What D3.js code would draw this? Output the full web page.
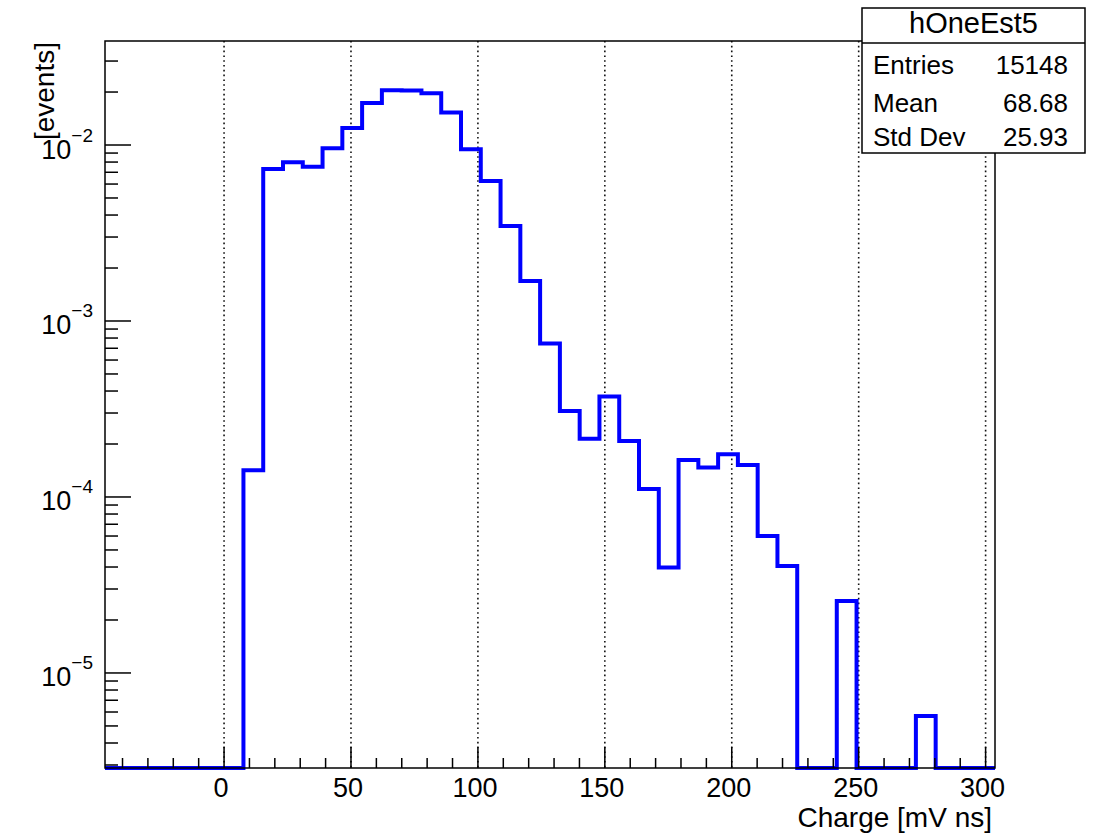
<!DOCTYPE html>
<html>
<head>
<meta charset="utf-8">
<script src="https://cdn.jsdelivr.net/npm/d3@7"></script>
<style>
  html, body { margin: 0; padding: 0; background: #fff; }
  svg { display: block; font-family: "Liberation Sans", Arial, Helvetica, sans-serif; }
</style>
</head>
<body>
<svg id="chart" width="1094" height="834"></svg>
<script>
// ---------------- data ----------------
const histName = "hOneEst5";
const xTitle = "Charge [mV ns]";
const yTitle = "[events]";
const xMin = -46.9;
const xMax = 303.7;
const nBins = 45;
// bin contents (normalized), 0 = empty bin
const binValues = [
  0, 0, 0, 0, 0, 0, 0,
  1.42e-4, 7.3e-3, 7.97e-3, 7.53e-3, 9.58e-3, 1.25e-2, 1.73e-2,
  2.05e-2, 2.04e-2, 1.97e-2, 1.53e-2, 9.45e-3, 6.24e-3, 3.46e-3,
  1.69e-3, 7.46e-4, 3.08e-4, 2.14e-4, 3.72e-4, 2.08e-4, 1.11e-4,
  3.97e-5, 1.62e-4, 1.47e-4, 1.75e-4, 1.52e-4, 6.0e-5, 4.06e-5,
  0, 0, 2.56e-5, 0, 0, 0, 5.7e-6, 0, 0, 0
];
const xMajorTicks = [0, 50, 100, 150, 200, 250, 300];
const xMinorTicks = [-40, -30, -20, -10, 10, 20, 30, 40, 60, 70, 80, 90, 110, 120, 130, 140,
  160, 170, 180, 190, 210, 220, 230, 240, 260, 270, 280, 290];
const yDecadeExponents = [-5, -4, -3, -2];
const yMin = Math.pow(10, -5.54);
const yMax = Math.pow(10, -1.409);
const statsLabels = ["Entries", "Mean", "Std Dev"];
const statsValues = ["15148", "68.68", "25.93"];

// ---------------- layout ----------------
const L = 105, R = 995, T = 41, B = 768;
const svg = d3.select("#chart");
svg.append("rect").attr("width", 1094).attr("height", 834).attr("fill", "#fff");

const x = d3.scaleLinear().domain([xMin, xMax]).range([L, R]);
const y = d3.scaleLog().domain([yMin, yMax]).range([B, T]);

// vertical dotted grid
svg.append("g").selectAll("line").data(xMajorTicks).join("line")
  .attr("x1", d => x(d)).attr("x2", d => x(d))
  .attr("y1", T).attr("y2", B)
  .attr("stroke", "#111").attr("stroke-width", 1.6)
  .attr("stroke-dasharray", "1.6,3.2");

// histogram step path
const bw = (xMax - xMin) / nBins;
const yc = v => (v > yMin ? y(v) : B);
let pts = [[x(xMin), B]];
binValues.forEach((v, i) => {
  const x0 = x(xMin + i * bw), x1 = x(xMin + (i + 1) * bw);
  pts.push([x0, yc(v)]);
  pts.push([x1, yc(v)]);
});
pts.push([x(xMax), B]);
svg.append("path")
  .attr("d", d3.line()(pts))
  .attr("fill", "none")
  .attr("stroke", "#0000ff")
  .attr("stroke-width", 4)
  .attr("stroke-linejoin", "miter");

// frame
svg.append("rect").attr("x", L).attr("y", T).attr("width", R - L).attr("height", B - T)
  .attr("fill", "none").attr("stroke", "#000").attr("stroke-width", 1.5);

// x axis ticks
const gx = svg.append("g");
gx.selectAll("line.maj").data(xMajorTicks).join("line").attr("class", "maj")
  .attr("x1", d => x(d)).attr("x2", d => x(d)).attr("y1", B).attr("y2", B - 21)
  .attr("stroke", "#000").attr("stroke-width", 1.5);
gx.selectAll("line.min").data(xMinorTicks).join("line").attr("class", "min")
  .attr("x1", d => x(d)).attr("x2", d => x(d)).attr("y1", B).attr("y2", B - 10)
  .attr("stroke", "#000").attr("stroke-width", 1.5);
gx.selectAll("text").data(xMajorTicks).join("text")
  .attr("x", d => x(d) - 3).attr("y", 797)
  .attr("text-anchor", "middle").attr("font-size", 27).attr("fill", "#000")
  .text(d => d);
svg.append("text").attr("x", 992).attr("y", 827).attr("text-anchor", "end")
  .attr("font-size", 28).attr("fill", "#000").text(xTitle);

// y axis ticks (log)
const gy = svg.append("g");
const yMinor = [];
for (let e = -6; e <= -1; e++) {
  for (let m = 2; m <= 9; m++) {
    const v = m * Math.pow(10, e);
    if (v >= yMin && v <= yMax) yMinor.push(v);
  }
}
gy.selectAll("line.min").data(yMinor).join("line").attr("class", "min")
  .attr("x1", L).attr("x2", L + 13).attr("y1", d => y(d)).attr("y2", d => y(d))
  .attr("stroke", "#000").attr("stroke-width", 1.5);
gy.selectAll("line.maj").data(yDecadeExponents).join("line").attr("class", "maj")
  .attr("x1", L).attr("x2", L + 26).attr("y1", d => y(Math.pow(10, d))).attr("y2", d => y(Math.pow(10, d)))
  .attr("stroke", "#000").attr("stroke-width", 1.5);
const lab = gy.selectAll("text").data(yDecadeExponents).join("text")
  .attr("x", 93).attr("y", d => y(Math.pow(10, d)) + 13.5)
  .attr("text-anchor", "end").attr("font-size", 27).attr("fill", "#000");
lab.append("tspan").text("10");
lab.append("tspan").attr("font-size", 19).attr("dy", -17).text(d => "\u2212" + Math.abs(d));

svg.append("text").attr("transform", "translate(54,42) rotate(-90)")
  .attr("text-anchor", "end").attr("font-size", 28).attr("fill", "#000").text(yTitle);

// stats box
const bx0 = 862, bx1 = 1085, by0 = 8, by1 = 153, bdiv = 43;
const gs = svg.append("g");
gs.append("rect").attr("x", bx0).attr("y", by0).attr("width", bx1 - bx0).attr("height", by1 - by0)
  .attr("fill", "#fff").attr("stroke", "#000").attr("stroke-width", 1.5);
gs.append("line").attr("x1", bx0).attr("x2", bx1).attr("y1", bdiv).attr("y2", bdiv)
  .attr("stroke", "#000").attr("stroke-width", 1.5);
gs.append("text").attr("x", (bx0 + bx1) / 2).attr("y", 33).attr("text-anchor", "middle")
  .attr("font-size", 29).attr("fill", "#000").text(histName);
const rowY = [74, 112, 146];
gs.selectAll("text.lab").data(statsLabels).join("text").attr("class", "lab")
  .attr("x", 873).attr("y", (d, i) => rowY[i]).attr("font-size", 26).attr("fill", "#000").text(d => d);
gs.selectAll("text.val").data(statsValues).join("text").attr("class", "val")
  .attr("x", 1068).attr("y", (d, i) => rowY[i]).attr("text-anchor", "end")
  .attr("font-size", 26).attr("fill", "#000").text(d => d);
</script>
</body>
</html>
